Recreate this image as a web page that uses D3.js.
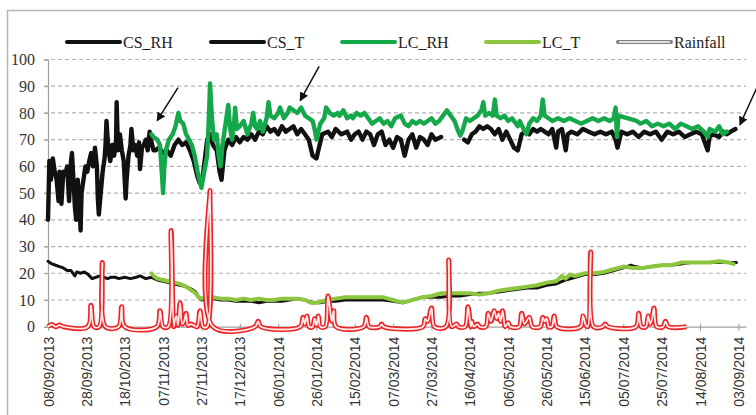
<!doctype html>
<html>
<head>
<meta charset="utf-8">
<style>
  body { margin: 0; background: #fff; }
  svg { display: block; }
  .ylab { font-family: 'Liberation Serif', 'Times New Roman', serif; font-size: 16px; fill: #333; }
  .xlab { font-family: 'Liberation Sans', Arial, sans-serif; font-size: 14px; fill: #333; }
  .leg { font-family: 'Liberation Serif', 'Times New Roman', serif; font-size: 16px; fill: #222; }
</style>
<script src="https://d3js.org/d3.v7.min.js"></script>
</head>
<body>
<svg width="756" height="415"></svg>
<script>
// day offsets are counted from 08/09/2013
const startDay = Date.UTC(2013, 8, 8)

const tickLabels = ['08/09/2013','28/09/2013','18/10/2013','07/11/2013','27/11/2013','17/12/2013',
  '06/01/2014','26/01/2014','15/02/2014','07/03/2014','27/03/2014','16/04/2014','06/05/2014',
  '26/05/2014','15/06/2014','05/07/2014','25/07/2014','14/08/2014','03/09/2014']
const yTicks = [0,10,20,30,40,50,60,70,80,90,100]

const seriesNames = ['CS_RH','CS_T','LC_RH','LC_T','Rainfall']

// [day, value]; null = gap in the record
const csRH = [[0,40],[0.7,62],[1.5,55],[2.5,63],[3.5,58],[4.5,55],[5.5,47],[6,58],[7,46],[8,58],[9,57],
  [10,60],[11,47],[12,62],[12.5,65],[13.5,52],[14,45],[14.7,40],[15.5,55],[16.5,45],[17,36],[17.5,50],
  [18.5,55],[19.5,60],[20.5,58],[21.5,62],[22.5,65],[23.5,60],[24.5,67],[25.5,60],[26,48],[26.5,42],
  [27.5,50],[28.5,58],[29.5,63],[30,68],[30.5,77],[31.5,66],[32.5,62],[33.5,68],[34.5,64],[35.5,70],
  [35.8,84],[36.5,66],[37.5,72],[38.5,66],[39.5,62],[40.5,48],[41,55],[42,64],[43,68],[43.5,74],[44.5,66],
  [45.5,68],[46.5,64],[47.5,69],[48,59],[49,67],[50,68],[51,70],[52,66],[53,73],[54,69],[55,66],[56,66],
  [58,67],[60,65],[62,66],[64,64],[66,68],[68,70],[70,68],[72,69],[74,66],[76,62],[78,56],[79,54],[80,53],
  [81,58],[82,64],[83,70],[84.5,72],[86,68],[88,66],[89.5,58],[90.5,55],[92,66],[94,70],[96,68],[98,71],
  [100,69],[102,71],[104,70],[106,72],[108,70],[110,73],[112,72],[114,75],[116,73],[118,74],[120,72],
  [122,75],[124,73],[126,74],[128,75],[130,72],[132,74],[134,72],[136,70],[138,64],[140,63],[141,66],
  [143,72],[146,73],[148,71],[150,74],[153,72],[156,73],[158,70],[160,72],[162,73],[164,70],[166,73],
  [168,72],[170,68],[172,72],[174,73],[176,68],[178,70],[180,67],[182,71],[184,70],[186,64],[188,70],
  [190,72],[192,67],[194,71],[196,70],[198,68],[200,72],[202,70],[205,71],[207,null],[216,null],[217,70],
  [219,69],[221,72],[223,73],[225,75],[227,74],[229,75],[231,74],[233,72],[235,74],[237,70],[239,73],
  [241,70],[243,67],[245,66],[247,72],[249,73],[251,72],[253,74],[255,73],[257,74],[259,73],[261,72],
  [263,74],[265,67],[266,73],[268,74],[270,66],[271,72],[273,73],[276,72],[279,74],[282,73],[285,72],
  [288,73],[291,72],[294,73],[296,70],[297,67],[299,73],[302,72],[305,73],[308,71],[311,73],[314,72],
  [317,73],[320,70],[323,73],[326,72],[329,73],[332,71],[335,72],[338,73],[341,72],[343,68],[344,66],
  [345,71],[347,72],[350,71],[352,73],[354,72],[356,73],[358.5,74]]

const lcRH = [[54,72],[55,71],[57,70],[58.4,68],[59.5,56],[60,50],[60.7,60],[61.5,66],[63,70],[65,72],
  [66.5,75],[68,80],[69,77],[70.5,76],[72,72],[73.5,70],[75,68],[76.5,64],[78,58],[79,55],[80,52],
  [81.5,58],[83,64],[84,80],[84.5,91],[85.5,78],[86.5,70],[88,72],[89,64],[90,60],[91,68],[92,73],[93,78],
  [94,83],[95,74],[96,70],[97,76],[97.6,82],[98.5,74],[100,75],[102,77],[104,72],[106,76],[107,80],
  [108,75],[109,74],[110.6,77],[112,73],[114,78],[115,84],[116,79],[118,78],[120,80],[121,82],[123,78],
  [125,80],[126,82],[128,81],[130,80],[132,82],[134,79],[136,78],[138,77],[139,74],[140,70],[141,73],
  [142,76],[144,78],[145,82],[147,80],[149,79],[151,80],[152,79],[154,81],[156,78],[158,79],[159,78],
  [161,80],[163,79],[165,80],[167,78],[169,76],[171,77],[173,78],[175,76],[177,77],[179,75],[181,78],
  [184,79],[186,76],[188,75],[190,77],[192,76],[194,77],[196,76],[198,77],[200,78],[202,76],[204,77],
  [206,79],[208,81],[210,79],[212,77],[214,73],[215,71.5],[216,73],[218,78],[220,77],[222,78],[224,79],
  [226,81],[227,84],[228,79],[230,80],[232,79],[233,85],[234,79],[236,78],[238,79],[240,77],[242,78],
  [244,76],[245,75],[246,77],[248,74],[249.5,72],[251,76],[253,78],[255,77],[257,79],[258,85],[259,79],
  [261,78],[263,77],[266,78],[269,77],[272,78],[275,77],[278,76],[281,77],[284,78],[287,77],[290,78],
  [293,77],[295,78],[296,82],[296.7,71],[297.5,79],[307,77],[309,76],[312,77],[315,75],[318,76],
  [321,75],[324,76],[327,74],[330,76],[333,75],[336,74],[339,75],[342,73],[344,71],[345,74],[348,73],
  [350,75],[352,72],[354,73]]

const csT = [[0,24.5],[2,23.5],[4,23],[6,22.5],[8,22],[10,21],[12,21],[14,19],[15,20.5],[17,20],
  [19,20.5],[21,19.5],[23,18],[25,18.5],[27,19],[29,18.5],[31,18],[33,18.5],[35,18.5],[37,18],[40,18.5],
  [43,18],[46,18.5],[48,19],[51,18],[54,18.5],[57,17.5],[60,17],[63,16.5],[66,16],[69,15.5],[72,15],
  [75,14],[77,13],[78.5,11],[80,10],[83,10.5],[86,10.5],[90,10],[94,10],[98,9.5],[102,9.5],[106,9.5],
  [110,9],[114,9.5],[118,9.5],[122,9.5],[126,10],[130,10.5],[134,10],[138,9],[142,9],[146,9.5],[150,9.5],
  [155,10],[160,10],[165,10],[170,10],[175,10],[180,9.5],[185,9],[190,10],[195,11],[200,11],[205,11],
  [210,11.5],[215,11.5],[220,12],[225,12.5],[230,12.5],[235,13],[240,13.5],[245,14],[250,14.5],
  [255,14.5],[260,15.5],[265,16],[270,17.5],[275,18.5],[280,19.5],[285,19.5],[290,20],[295,21],[300,22],
  [304,23],[306,22.5],[310,22],[315,22.5],[320,23],[325,23],[330,23.5],[335,24],[340,24],[345,24],
  [350,24],[355,24],[359,24]]

const lcT = [[54,20],[55,19],[57,18],[60,17.5],[63,17],[66,16.5],[69,16],[72,15],[75,13.5],[77,12.5],
  [78.5,11],[80,10.5],[83,11],[86,11],[90,10.5],[94,10.5],[98,10],[102,10.5],[106,10],[110,10.5],
  [114,10],[118,10],[122,10.5],[126,10.5],[130,10.5],[134,10],[137,9],[140,9],[143,9.5],[146,10],
  [150,10.5],[155,11],[160,11],[165,11],[170,11],[175,11],[180,10],[185,9],[190,10],[195,11],[200,11.5],
  [205,12.5],[210,12.5],[215,12.5],[220,12.5],[225,12],[230,12.5],[235,13.5],[240,14],[245,14.5],
  [250,15],[255,15.5],[260,16.5],[265,17],[268,19],[270,18],[272,19.5],[275,19],[280,20],[285,20],
  [290,20.5],[295,21.5],[300,22.5],[305,22],[310,22],[315,22.5],[320,23],[325,23],[330,24],[335,24],
  [340,24],[345,24],[350,24.5],[355,24],[357.5,23.5]]

const rainfall = [[0,0],[2,0.8],[4,0],[6,0.6],[8,0],[20.8,0],[22.4,8],[24,0],[26.7,0],[28.3,24],[29.9,0],
  [36.8,0],[38.4,7.5],[40,0],[56.8,0],[58.4,6],[60,0],[62.7,0],[64.2,36],[65.6,0],[66.3,3],[67,4],
  [67.8,0.5],[68.9,9],[70,1],[71,2],[72,5],[73,0.5],[74.5,1],[76,0.5],[77.8,0],[79.3,6],[80.8,0],
  [83,0],[84.5,51],[86,0],[108,0],[109.6,2],[111,0],[131.5,0],[133,3.5],[134,1],[135,4],[136.2,0],
  [138,0],[139,3],[140,0.5],[141,4],[142,0],[144.6,0],[146,11.5],[147,7],[148,2],[149,6],[150.2,0],
  [164.6,0],[166,3.5],[167.4,0],[173,0],[174,1],[175,0],[195.5,0],[196.7,3],[198,2],[200,7],[201.5,0],
  [207.5,0],[209,25],[210.5,0],[213,1],[214,0],[217.5,0],[219,7.5],[220.5,0],[221,2],[222,0],[224,1],
  [225,0],[228.3,0],[229.6,5],[231,2],[232.7,6],[234,3],[235,5],[236,2],[237,6],[238.5,0],[240,1.5],
  [241,0],[245.7,0],[247,5],[248.5,1],[251,3.5],[252.5,0],[256.7,0],[258,3.5],[259,2],[260,3],[261.2,0],
  [262.7,0],[264,4],[265.4,0],[277.7,0],[279,4],[280.5,0.5],[281.5,0],[283,28],[284.5,0],[289.3,0],
  [290.6,1],[292,0],[306.6,0],[308,5],[309.4,0],[311.8,0],[313,4],[314,1],[315,3],[316,7],[317.4,0],
  [320.8,0],[322,2],[323.4,0],[333,0]]

// arrows: [tail day, tail value, head day, head value]
const arrows = [[67.8,89.5,56.9,77.1],[141.4,97.4,131.5,84.6],[370,90,360.8,75.5]]

const dayDate = d => new Date(startDay + d * 864e5)
const parseTick = d3.utcParse('%d/%m/%Y')

const svg = d3.select('svg')

const x = d3.scaleUtc()
  .domain([dayDate(0), dayDate(364)])
  .range([48, 746])

const y = d3.scaleLinear()
  .domain([0, 100])
  .range([326.7, 59.5])

// outer frame of the exported chart
svg.append('path')
  .attr('d', 'M7.5,415 V10.5 H756')
  .attr('fill', 'none')
  .attr('stroke', '#b5b5b5')
  .attr('stroke-width', 1.5)

// dashed grid
svg.append('g')
  .selectAll('line')
  .data(yTicks.filter(v => v > 0))
  .join('line')
  .attr('x1', 44).attr('x2', 746)
  .attr('y1', d => y(d)).attr('y2', d => y(d))
  .attr('stroke', '#b3b3b3')
  .attr('stroke-width', 1.2)
  .attr('stroke-dasharray', '4,3')

// y axis
const yAxis = svg.append('g')
  .attr('transform', 'translate(48,0)')
  .call(d3.axisLeft(y).tickValues(yTicks).tickSize(4).tickPadding(9))
yAxis.select('.domain').attr('stroke', '#a0a0a0').attr('stroke-width', 1.2)
yAxis.selectAll('.tick line').attr('stroke', '#a0a0a0')
yAxis.selectAll('text').attr('class', 'ylab').attr('font-family', null).attr('font-size', null).attr('fill', null)

// x axis
const xAxis = svg.append('g')
  .attr('transform', `translate(0,${y(0)})`)
  .call(d3.axisBottom(x)
    .tickValues(tickLabels.map(parseTick))
    .tickFormat(d3.utcFormat('%d/%m/%Y'))
    .tickSizeInner(4).tickSizeOuter(0))
xAxis.select('.domain').attr('stroke', '#a0a0a0').attr('stroke-width', 1.2)
xAxis.selectAll('.tick line').attr('stroke', '#999').attr('y1', -3).attr('y2', 4)
xAxis.selectAll('text')
  .attr('class', 'xlab')
  .attr('font-family', null).attr('font-size', null).attr('fill', null)
  .attr('text-anchor', 'end')
  .attr('transform', 'rotate(-90)')
  .attr('x', -10).attr('y', 0).attr('dy', '0.36em')

const line = curve => d3.line()
  .defined(d => d[1] !== null)
  .x(d => x(dayDate(d[0])))
  .y(d => y(d[1]))
  .curve(curve)

const plot = svg.append('g')

const drawSeries = (data, color, width) =>
  plot.append('path')
    .datum(data)
    .attr('d', line(d3.curveLinear))
    .attr('fill', 'none')
    .attr('stroke', color)
    .attr('stroke-width', width)
    .attr('stroke-linejoin', 'round')
    .attr('stroke-linecap', 'round')

drawSeries(csRH, '#111', 4.4)
drawSeries(lcRH, '#15a84b', 4.4)
drawSeries(csT, '#111', 3)
drawSeries(lcT, '#8cc63f', 4)

// rainfall: double red line (outer red, white core)
plot.append('path')
  .datum(rainfall)
  .attr('d', line(d3.curveCatmullRom))
  .attr('fill', 'none')
  .attr('stroke', '#ee2124')
  .attr('stroke-width', 5)
  .attr('stroke-linejoin', 'round')
plot.append('path')
  .datum(rainfall)
  .attr('d', line(d3.curveCatmullRom))
  .attr('fill', 'none')
  .attr('stroke', '#fff')
  .attr('stroke-opacity', 0.9)
  .attr('stroke-width', 1.8)
  .attr('stroke-linejoin', 'round')

// arrows
svg.append('defs').append('marker')
  .attr('id', 'head')
  .attr('viewBox', '0 0 10 10')
  .attr('refX', 9).attr('refY', 5)
  .attr('markerWidth', 6).attr('markerHeight', 6)
  .attr('markerUnits', 'strokeWidth')
  .attr('orient', 'auto')
  .append('path')
  .attr('d', 'M0,0 L10,5 L0,10 z')
  .attr('fill', '#111')

svg.append('g')
  .selectAll('line')
  .data(arrows)
  .join('line')
  .attr('x1', d => x(dayDate(d[0]))).attr('y1', d => y(d[1]))
  .attr('x2', d => x(dayDate(d[2]))).attr('y2', d => y(d[3]))
  .attr('stroke', '#111')
  .attr('stroke-width', 1.5)
  .attr('marker-end', 'url(#head)')

// legend
const legendColors = ['#111', '#111', '#15a84b', '#8cc63f', '#808080']
const legendX = [67, 211, 342, 486, 618]
const legend = svg.append('g')
  .selectAll('g')
  .data(seriesNames)
  .join('g')
  .attr('transform', (d, i) => `translate(${legendX[i]},42)`)

legend.append('line')
  .attr('x1', 0).attr('x2', 53)
  .attr('stroke', (d, i) => legendColors[i])
  .attr('stroke-width', 4)
  .attr('stroke-linecap', 'round')
legend.filter(d => d === 'Rainfall')
  .append('line')
  .attr('x1', 1).attr('x2', 52)
  .attr('stroke', '#fff')
  .attr('stroke-width', 1.6)
legend.append('text')
  .attr('class', 'leg')
  .attr('x', 56)
  .attr('dy', '0.35em')
  .text(d => d)
</script>
</body>
</html>
